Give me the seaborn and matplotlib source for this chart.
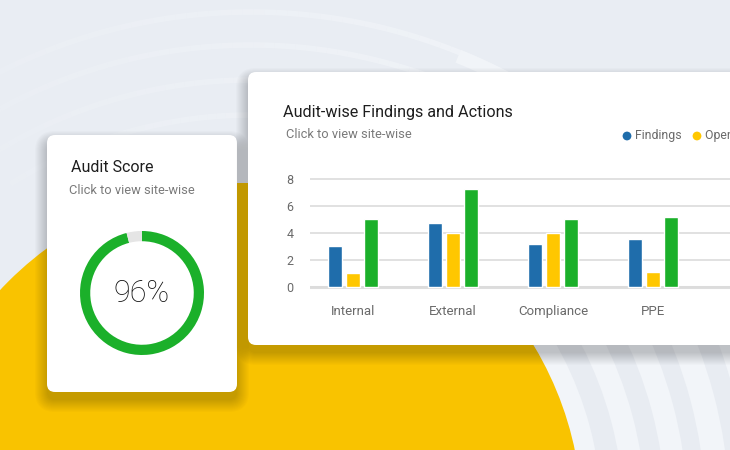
import numpy as np
import pandas as pd
import matplotlib.pyplot as plt
import seaborn as sns
from matplotlib.patches import Circle, Wedge, FancyBboxPatch

# data
categories = ['Internal', 'External', 'Compliance', 'PPE']
findings = [3.0, 4.7, 3.2, 3.55]
open_actions = [1.0, 4.0, 4.0, 1.1]
closed_actions = [5.0, 7.2, 5.0, 5.15]
series_names = ['Findings', 'Open Actions', 'Closed Actions']
y_ticks = [0, 2, 4, 6, 8]
audit_score = 96

colors = ['#1F6DAB', '#FFC700', '#1BB02A']

sns.set_theme(style='white')
plt.rcParams['font.family'] = ['Roboto', 'DejaVu Sans']

W, H = 730, 450
fig = plt.figure(figsize=(W / 100, H / 100), dpi=100)
fig.patch.set_facecolor('#E9EDF3')

# background layer in pixel coordinates
bg = fig.add_axes([0, 0, 1, 1], zorder=0)
bg.set_xlim(0, W)
bg.set_ylim(H, 0)
bg.axis('off')

# faint arcs at the top, fading out to the left
acx, acy = 251, 569
for r in [557, 524, 489, 454]:
    t = np.radians(np.linspace(238, 306, 60))
    xs, ys = acx + r * np.cos(t), acy + r * np.sin(t)
    for i in range(len(t) - 1):
        bg.plot(xs[i:i + 2], ys[i:i + 2], color='#F2F5F9', lw=4, zorder=1,
                alpha=0.15 + 0.7 * i / (len(t) - 2), solid_capstyle='butt')
t = np.radians(np.linspace(292, 306, 20))
bg.plot(acx + 553 * np.cos(t), acy + 553 * np.sin(t), color='#F1F4F8', lw=10,
        zorder=1, solid_capstyle='butt')

# stripes at the bottom right, around the yellow disc
cx, cy, R = 246, 519, 336
bg.add_patch(Wedge((cx, cy), 750, -40, 10, facecolor='#F2F5F9', edgecolor='none'))
for r0, r1 in [(356, 378), (400, 420), (442, 460), (484, 504), (528, 548), (572, 592)]:
    bg.add_patch(Wedge((cx, cy), r1, -40, 10, width=r1 - r0, facecolor='#E8ECF2', edgecolor='none'))
bg.add_patch(Circle((cx, cy), R, facecolor='#F9C300', edgecolor='none'))


def card(x, y, w, h):
    for s in range(13):
        bg.add_patch(FancyBboxPatch((x - s, y + 8 - s), w + 2 * s, h + 2 * s,
                                    boxstyle='round,pad=0,rounding_size=%d' % (8 + s),
                                    facecolor='black', edgecolor='none', alpha=0.014))
    bg.add_patch(FancyBboxPatch((x, y), w, h, boxstyle='round,pad=0,rounding_size=8',
                                facecolor='white', edgecolor='none'))


card(47, 135, 190, 257)
card(248, 72, 520, 273)

bg.text(71, 167, 'Audit Score', fontsize=11.5, color='#1E1E1E', va='center')
bg.text(69, 190, 'Click to view site-wise', fontsize=9.3, color='#7A7A7A', va='center')
bg.text(283, 112, 'Audit-wise Findings and Actions', fontsize=11.6, color='#1E1E1E', va='center')
bg.text(286, 135, 'Click to view site-wise', fontsize=9.3, color='#7A7A7A', va='center')

# legend (runs off the right edge as in the original)
legend_x = [627, 697]
for lx, name, c in zip(legend_x, series_names, colors):
    bg.scatter([lx], [136], s=40, color=c, edgecolor='none', zorder=3)
    bg.text(lx + 8, 136, name, fontsize=8.8, color='#6A6A6A', va='center')

# bar chart
df = pd.DataFrame({'audit': categories, series_names[0]: findings,
                   series_names[1]: open_actions, series_names[2]: closed_actions})
long_df = df.melt(id_vars='audit', var_name='series', value_name='value')

ax = fig.add_axes([310 / W, (H - 295) / H, 420 / W, 125 / H], zorder=2)
ax.patch.set_alpha(0)
sns.barplot(data=long_df, x='audit', y='value', hue='series', palette=colors,
            width=0.54, gap=0.22, saturation=1, errorbar=None, legend=False, ax=ax)
ax.set_xlim(-0.43, 3.77)
ax.set_ylim(-0.59, 8.63)
ax.set_yticks(y_ticks)
ax.yaxis.grid(True, color='#DCDCDC', lw=1.2)
ax.set_axisbelow(True)
ax.axhline(0, color='#DEDEDE', lw=2.2, zorder=0.5)
sns.despine(ax=ax, left=True, bottom=True)
ax.tick_params(axis='y', length=0, pad=12, labelsize=9, labelcolor='#6A6A6A')
ax.tick_params(axis='x', length=0, pad=7, labelsize=9.5, labelcolor='#6A6A6A')
ax.set_xlabel('')
ax.set_ylabel('')

# donut
ax2 = fig.add_axes([(142 - 62) / W, (H - 293 - 62) / H, 124 / W, 124 / H], zorder=2)
ax2.pie([audit_score, 100 - audit_score], colors=['#1BB02A', '#E5E5E5'], startangle=90,
        counterclock=False, radius=1, wedgeprops=dict(width=0.165, edgecolor='none'))
ax2.set_xlim(-1, 1)
ax2.set_ylim(-1, 1)
ax2.set_aspect('equal')
ax2.text(0, 0, '%d%%' % audit_score, ha='center', va='center', fontsize=22,
         fontweight='light', color='#111111')

fig.savefig('out.png', dpi=100, facecolor=fig.get_facecolor())
